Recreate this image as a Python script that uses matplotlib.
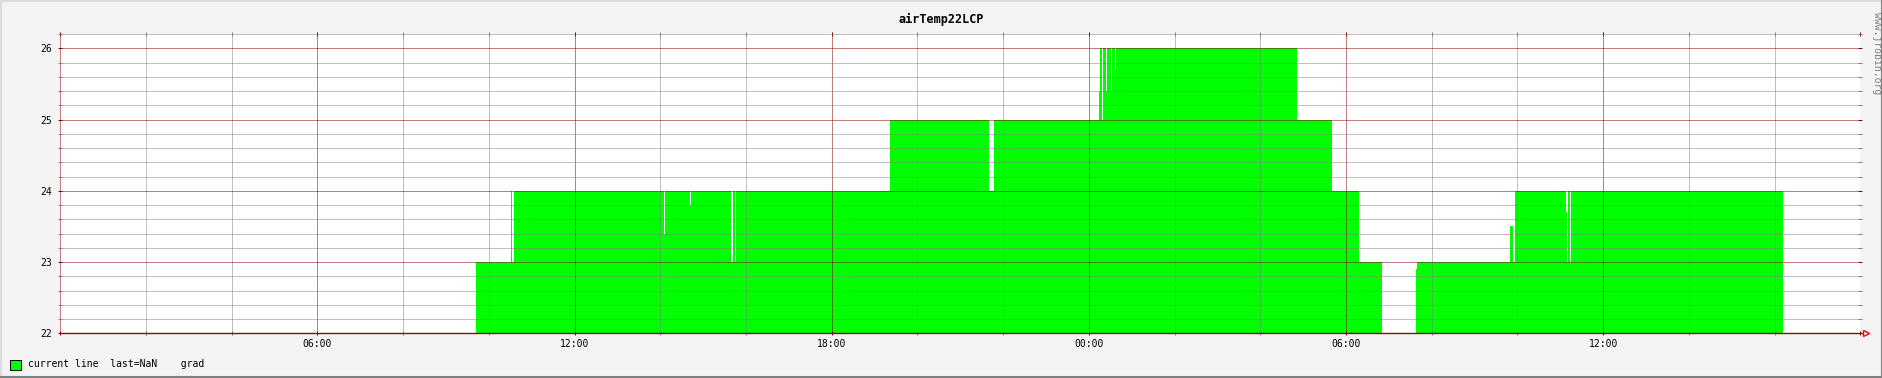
import numpy as np
import matplotlib
matplotlib.use("Agg")
import matplotlib.pyplot as plt
from matplotlib.ticker import FixedLocator
from matplotlib.patches import Rectangle
from matplotlib.lines import Line2D


# step data: edges in hours since 00:00 of first day, value holds until next edge
edges = [0, 9.71, 10.52, 10.55, 10.59, 14.08, 14.12, 14.70, 14.72, 15.64,
         15.70, 15.75, 15.77, 19.37, 21.66, 21.78, 21.94, 21.96, 24.23, 24.25,
         24.27, 24.31, 24.33, 24.40, 24.42, 24.51, 24.53, 24.62, 24.64, 28.85,
         29.67, 30.30, 30.83, 30.85, 31.64, 31.66, 33.82, 33.89, 33.94, 35.13,
         35.15, 35.18, 35.22, 35.25, 40.20, 42]
temp = [np.nan, 23, 24, 23, 24, 23.4, 24, 23.8, 24, 23,
        24, 23, 24, 25, 24, 25, 24, 25, 25.4, 25,
        26, 25, 26, 25.4, 26, 25.4, 26, 25.7, 26, 25,
        24, 23, 22.9, np.nan, 22.9, 23, 23.5, 23, 24, 23.7,
        23, 24, 23, 24, np.nan]

x_labels = ["06:00", "12:00", "18:00", "00:00", "06:00", "12:00"]
y_ticks = [22, 23, 24, 25, 26]

W, H = 1883, 378
bg = "#f4f4f4"
mgrid = "#800000"
grid = "#808080"
green = "#00ff00"
mono = "DejaVu Sans Mono"

fig = plt.figure(figsize=(W / 100, H / 100), dpi=100, facecolor=bg)

# plot area in pixels
x0, x1 = 60.3, 1860.3
y_top, y_bot = 34.0, 333.3
ax = fig.add_axes([x0 / W, 1 - y_bot / H, (x1 - x0) / W, (y_bot - y_top) / H])
ax.set_facecolor("white")

ax.stairs(temp, edges, baseline=22, fill=True, color=green, lw=0, antialiased=False, zorder=1)

ax.set_xlim(0, 42)
ax.set_ylim(22, 26.2)

ax.xaxis.set_major_locator(FixedLocator(list(range(0, 43, 6))))
ax.xaxis.set_minor_locator(FixedLocator([h for h in range(0, 43, 2) if h % 6]))
ax.set_xticklabels([""] + x_labels + [""])
ax.yaxis.set_major_locator(FixedLocator(y_ticks))
ax.yaxis.set_minor_locator(FixedLocator([22 + 0.2 * i for i in range(1, 22) if i % 5]))
ax.set_yticklabels([str(v) for v in y_ticks])

ax.set_axisbelow(False)
ax.grid(which="major", color=mgrid, lw=0.72, ls=(0, (1, 1)), zorder=3)
ax.grid(which="minor", color=grid, lw=0.72, ls=(0, (1, 1)), zorder=3)

ax.tick_params(which="both", direction="inout", top=True, right=True, width=0.72)
ax.tick_params(which="major", length=3, color=mgrid, labelsize=7, labelcolor="black")
ax.tick_params(which="minor", length=3, color=grid)
ax.tick_params(axis="y", pad=4.2)
ax.tick_params(axis="x", pad=2.5)
for lab in ax.get_xticklabels() + ax.get_yticklabels():
    lab.set_family(mono)

for s in ["left", "right", "top", "bottom"]:
    ax.spines[s].set_visible(False)

# x axis line with arrow
ax.plot([0, 1.0017], [0, 0], transform=ax.transAxes, color="#801010", lw=1.0,
        clip_on=False, zorder=4, solid_capstyle="butt")
ax.plot([1.0033], [0], transform=ax.transAxes, marker=">", ms=5, mfc="none",
        mec="red", mew=1.0, clip_on=False, zorder=5)

# title
fig.text(0.5, 1 - 19 / H, "airTemp22LCP", ha="center", va="center",
         family=mono, fontweight="bold", fontsize=8.5)

# legend
fig.add_artist(Rectangle((10.5 / W, 1 - 369.5 / H), 10 / W, 10 / H,
                         transform=fig.transFigure, fc=green, ec="black", lw=0.72))
fig.text(28 / W, 1 - 364 / H, "current line  last=NaN    grad", ha="left", va="center",
         family=mono, fontsize=7)

# watermark
fig.text(1877 / W, 1 - 53 / H, "www.jrobin.org", rotation=270, ha="center", va="center",
         family=mono, fontsize=7, color="#808080")

# image border
fig.add_artist(Line2D([0, 1], [1 - 1 / H, 1 - 1 / H], transform=fig.transFigure, color="#dcdcdc", lw=1.5))
fig.add_artist(Line2D([1 / W, 1 / W], [0, 1], transform=fig.transFigure, color="#dcdcdc", lw=1.5))
fig.add_artist(Line2D([1 - 1 / W, 1 - 1 / W], [0, 1], transform=fig.transFigure, color="#808080", lw=1.5))
fig.add_artist(Line2D([0, 1], [1 / H, 1 / H], transform=fig.transFigure, color="#808080", lw=1.5))

fig.savefig("out.png", dpi=100, facecolor=bg)
